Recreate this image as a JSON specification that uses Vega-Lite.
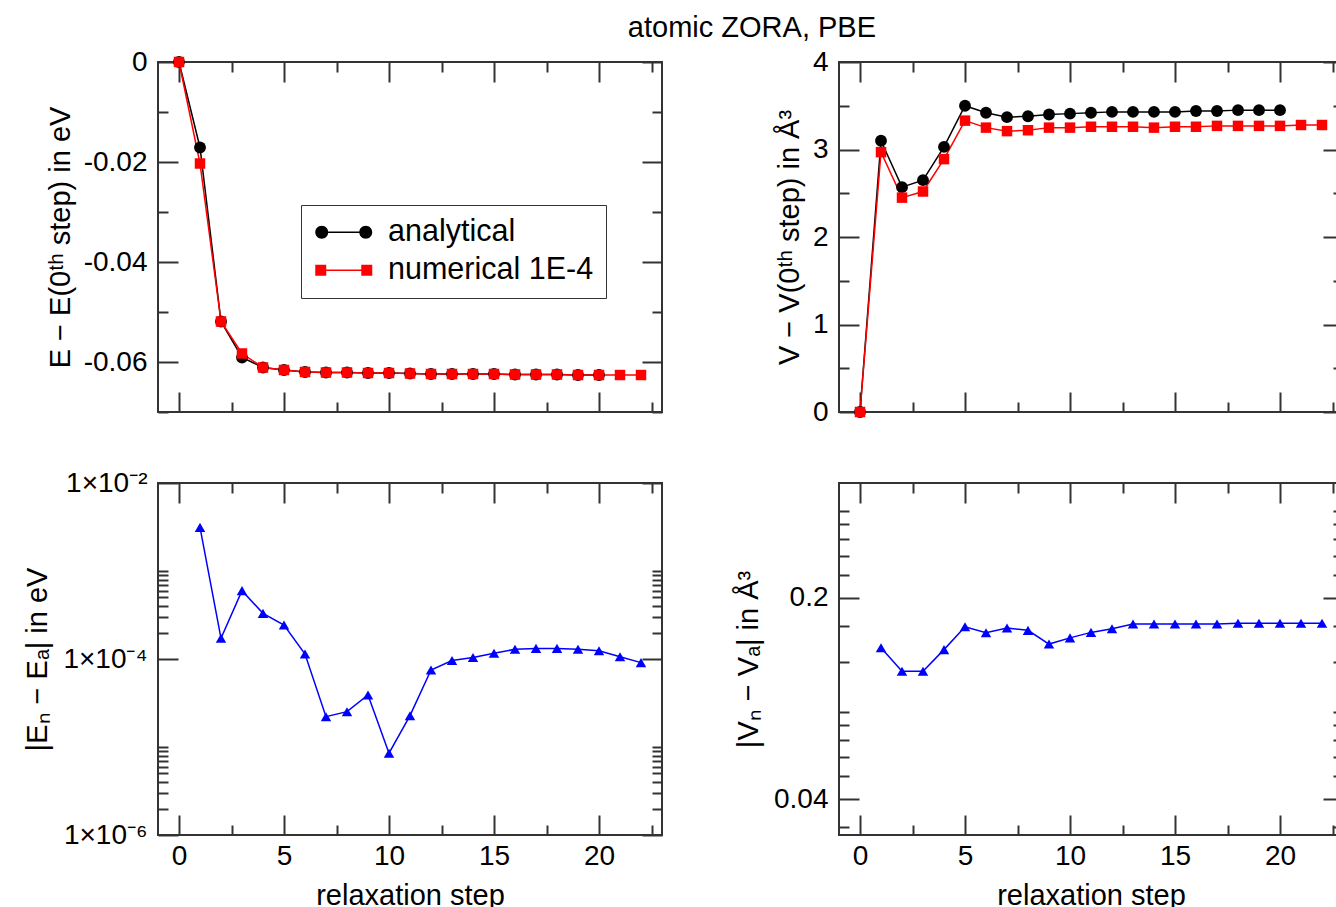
{
  "$schema": "https://vega.github.io/schema/vega-lite/v6.json",
  "padding": {"left": 22, "top": 14, "right": 0, "bottom": 0},
  "background": "white",
  "title": {"text": "atomic ZORA, PBE", "fontSize": 29, "font": "Liberation Sans", "fontWeight": "normal", "color": "#000", "anchor": "middle", "dx": 68, "offset": 4},
  "config": {
    "view": {"stroke": "#333", "strokeWidth": 2},
    "axis": {"domain": false, "grid": false, "tickColor": "#333", "tickWidth": 2, "labelFont": "Liberation Sans", "labelFontSize": 28, "labelColor": "#000", "titleFont": "Liberation Sans", "titleFontSize": 29, "titleFontWeight": "normal", "titleColor": "#000", "labelFlush": false, "labelOverlap": false}
  },
  "datasets": {
    "energy": [
      {"step": 0, "series": "analytical", "value": 0},
      {"step": 1, "series": "analytical", "value": -0.0171},
      {"step": 2, "series": "analytical", "value": -0.0519},
      {"step": 3, "series": "analytical", "value": -0.0591},
      {"step": 4, "series": "analytical", "value": -0.0611},
      {"step": 5, "series": "analytical", "value": -0.0616},
      {"step": 6, "series": "analytical", "value": -0.0620},
      {"step": 7, "series": "analytical", "value": -0.0621},
      {"step": 8, "series": "analytical", "value": -0.0621},
      {"step": 9, "series": "analytical", "value": -0.0622},
      {"step": 10, "series": "analytical", "value": -0.0622},
      {"step": 11, "series": "analytical", "value": -0.0623},
      {"step": 12, "series": "analytical", "value": -0.0624},
      {"step": 13, "series": "analytical", "value": -0.0624},
      {"step": 14, "series": "analytical", "value": -0.0624},
      {"step": 15, "series": "analytical", "value": -0.0624},
      {"step": 16, "series": "analytical", "value": -0.0625},
      {"step": 17, "series": "analytical", "value": -0.0625},
      {"step": 18, "series": "analytical", "value": -0.0625},
      {"step": 19, "series": "analytical", "value": -0.0626},
      {"step": 20, "series": "analytical", "value": -0.0626},
      {"step": 0, "series": "numerical 1E-4", "value": 0},
      {"step": 1, "series": "numerical 1E-4", "value": -0.0203},
      {"step": 2, "series": "numerical 1E-4", "value": -0.0519},
      {"step": 3, "series": "numerical 1E-4", "value": -0.0583},
      {"step": 4, "series": "numerical 1E-4", "value": -0.0611},
      {"step": 5, "series": "numerical 1E-4", "value": -0.0616},
      {"step": 6, "series": "numerical 1E-4", "value": -0.0620},
      {"step": 7, "series": "numerical 1E-4", "value": -0.0621},
      {"step": 8, "series": "numerical 1E-4", "value": -0.0621},
      {"step": 9, "series": "numerical 1E-4", "value": -0.0622},
      {"step": 10, "series": "numerical 1E-4", "value": -0.0622},
      {"step": 11, "series": "numerical 1E-4", "value": -0.0623},
      {"step": 12, "series": "numerical 1E-4", "value": -0.0624},
      {"step": 13, "series": "numerical 1E-4", "value": -0.0624},
      {"step": 14, "series": "numerical 1E-4", "value": -0.0624},
      {"step": 15, "series": "numerical 1E-4", "value": -0.0624},
      {"step": 16, "series": "numerical 1E-4", "value": -0.0625},
      {"step": 17, "series": "numerical 1E-4", "value": -0.0625},
      {"step": 18, "series": "numerical 1E-4", "value": -0.0625},
      {"step": 19, "series": "numerical 1E-4", "value": -0.0626},
      {"step": 20, "series": "numerical 1E-4", "value": -0.0626},
      {"step": 21, "series": "numerical 1E-4", "value": -0.0626},
      {"step": 22, "series": "numerical 1E-4", "value": -0.0626}
    ],
    "volume": [
      {"step": 0, "series": "analytical", "value": 0},
      {"step": 1, "series": "analytical", "value": 3.10},
      {"step": 2, "series": "analytical", "value": 2.57},
      {"step": 3, "series": "analytical", "value": 2.65},
      {"step": 4, "series": "analytical", "value": 3.03},
      {"step": 5, "series": "analytical", "value": 3.50},
      {"step": 6, "series": "analytical", "value": 3.42},
      {"step": 7, "series": "analytical", "value": 3.37},
      {"step": 8, "series": "analytical", "value": 3.38},
      {"step": 9, "series": "analytical", "value": 3.40},
      {"step": 10, "series": "analytical", "value": 3.41},
      {"step": 11, "series": "analytical", "value": 3.42},
      {"step": 12, "series": "analytical", "value": 3.43},
      {"step": 13, "series": "analytical", "value": 3.43},
      {"step": 14, "series": "analytical", "value": 3.43},
      {"step": 15, "series": "analytical", "value": 3.43},
      {"step": 16, "series": "analytical", "value": 3.44},
      {"step": 17, "series": "analytical", "value": 3.44},
      {"step": 18, "series": "analytical", "value": 3.45},
      {"step": 19, "series": "analytical", "value": 3.45},
      {"step": 20, "series": "analytical", "value": 3.45},
      {"step": 0, "series": "numerical 1E-4", "value": 0},
      {"step": 1, "series": "numerical 1E-4", "value": 2.97},
      {"step": 2, "series": "numerical 1E-4", "value": 2.45},
      {"step": 3, "series": "numerical 1E-4", "value": 2.52},
      {"step": 4, "series": "numerical 1E-4", "value": 2.89},
      {"step": 5, "series": "numerical 1E-4", "value": 3.33},
      {"step": 6, "series": "numerical 1E-4", "value": 3.25},
      {"step": 7, "series": "numerical 1E-4", "value": 3.21},
      {"step": 8, "series": "numerical 1E-4", "value": 3.22},
      {"step": 9, "series": "numerical 1E-4", "value": 3.25},
      {"step": 10, "series": "numerical 1E-4", "value": 3.25},
      {"step": 11, "series": "numerical 1E-4", "value": 3.26},
      {"step": 12, "series": "numerical 1E-4", "value": 3.26},
      {"step": 13, "series": "numerical 1E-4", "value": 3.26},
      {"step": 14, "series": "numerical 1E-4", "value": 3.25},
      {"step": 15, "series": "numerical 1E-4", "value": 3.26},
      {"step": 16, "series": "numerical 1E-4", "value": 3.26},
      {"step": 17, "series": "numerical 1E-4", "value": 3.27},
      {"step": 18, "series": "numerical 1E-4", "value": 3.27},
      {"step": 19, "series": "numerical 1E-4", "value": 3.27},
      {"step": 20, "series": "numerical 1E-4", "value": 3.27},
      {"step": 21, "series": "numerical 1E-4", "value": 3.28},
      {"step": 22, "series": "numerical 1E-4", "value": 3.28}
    ],
    "dE": [
      {"step": 1, "value": 0.00313},
      {"step": 2, "value": 0.000172},
      {"step": 3, "value": 0.000598},
      {"step": 4, "value": 0.00033},
      {"step": 5, "value": 0.000243},
      {"step": 6, "value": 0.000114},
      {"step": 7, "value": 0.0000221},
      {"step": 8, "value": 0.0000252},
      {"step": 9, "value": 0.000039},
      {"step": 10, "value": 0.0000085},
      {"step": 11, "value": 0.0000227},
      {"step": 12, "value": 0.000075},
      {"step": 13, "value": 0.000096},
      {"step": 14, "value": 0.000104},
      {"step": 15, "value": 0.000116},
      {"step": 16, "value": 0.000129},
      {"step": 17, "value": 0.000132},
      {"step": 18, "value": 0.000132},
      {"step": 19, "value": 0.000129},
      {"step": 20, "value": 0.000124},
      {"step": 21, "value": 0.000106},
      {"step": 22, "value": 0.000091}
    ],
    "dV": [
      {"step": 1, "value": 0.134},
      {"step": 2, "value": 0.111},
      {"step": 3, "value": 0.111},
      {"step": 4, "value": 0.132},
      {"step": 5, "value": 0.1585},
      {"step": 6, "value": 0.151},
      {"step": 7, "value": 0.157},
      {"step": 8, "value": 0.154},
      {"step": 9, "value": 0.138},
      {"step": 10, "value": 0.145},
      {"step": 11, "value": 0.1515},
      {"step": 12, "value": 0.156},
      {"step": 13, "value": 0.162},
      {"step": 14, "value": 0.162},
      {"step": 15, "value": 0.162},
      {"step": 16, "value": 0.162},
      {"step": 17, "value": 0.162},
      {"step": 18, "value": 0.163},
      {"step": 19, "value": 0.163},
      {"step": 20, "value": 0.163},
      {"step": 21, "value": 0.163},
      {"step": 22, "value": 0.163}
    ]
  },
  "columns": 2,
  "spacing": {"row": 71, "column": 177},
  "bounds": "flush",
  "concat": [
    {
      "width": 504, "height": 350,
      "data": {"name": "energy"},
      "layer": [
        {
          "mark": {"type": "line", "strokeWidth": 1.5},
          "encoding": {
            "x": {"field": "step", "type": "quantitative", "scale": {"domain": [-1, 23], "nice": false, "zero": false},
              "axis": {"orient": "bottom", "values": [0, 2.5, 5, 7.5, 10, 12.5, 15, 17.5, 20, 22.5], "labels": false, "title": null,
                "tickSize": {"condition": {"test": "datum.value % 5 === 0", "value": -20}, "value": -10}}},
            "y": {"field": "value", "type": "quantitative", "scale": {"domain": [-0.07, 0], "nice": false, "zero": false},
              "axis": {"orient": "left", "values": [-0.07, -0.06, -0.05, -0.04, -0.03, -0.02, -0.01, 0], "title": "E − E(0ᵗʰ step) in eV", "titlePadding": 8, "labelPadding": 31,
                "labelExpr": "abs(round(datum.value*100)) % 2 === 0 ? (datum.value === 0 ? '0' : '-0.0' + abs(round(datum.value*100))) : ''",
                "tickSize": {"condition": {"test": "abs(round(datum.value*100)) % 2 === 0", "value": -20}, "value": -10}}},
            "color": {"field": "series", "type": "nominal", "scale": {"domain": ["analytical", "numerical 1E-4"], "range": ["#000000", "#ff0000"]},
              "legend": {"title": null, "orient": "none", "legendX": 143, "legendY": 143, "labelFont": "Liberation Sans", "labelFontSize": 30.5, "labelColor": "#000", "labelLimit": 0,
                "symbolSize": 841, "symbolOffset": 15.5, "labelOffset": 29, "strokeColor": "#333", "fillColor": "white", "padding": 12, "rowPadding": 7, "symbolStrokeWidth": 0, "symbolOpacity": 1}}
          }
        },
        {
          "transform": [{"filter": "datum.series === 'analytical'"}],
          "mark": {"type": "point", "filled": true, "opacity": 1, "shape": "circle", "size": 140},
          "encoding": {
            "x": {"field": "step", "type": "quantitative", "axis": null},
            "y": {"field": "value", "type": "quantitative", "axis": null},
            "color": {"field": "series", "type": "nominal"}
          }
        },
        {
          "transform": [{"filter": "datum.series !== 'analytical'"}],
          "mark": {"type": "point", "filled": true, "opacity": 1, "shape": "square", "size": 110},
          "encoding": {
            "x": {"field": "step", "type": "quantitative", "axis": null},
            "y": {"field": "value", "type": "quantitative", "axis": null},
            "color": {"field": "series", "type": "nominal"}
          }
        },
        {
          "mark": {"type": "point", "opacity": 0},
          "encoding": {
            "x": {"field": "step", "type": "quantitative",
              "axis": {"orient": "top", "values": [0, 2.5, 5, 7.5, 10, 12.5, 15, 17.5, 20, 22.5], "labels": false, "title": null,
                "tickSize": {"condition": {"test": "datum.value % 5 === 0", "value": -20}, "value": -10}}},
            "y": {"field": "value", "type": "quantitative",
              "axis": {"orient": "right", "values": [-0.07, -0.06, -0.05, -0.04, -0.03, -0.02, -0.01, 0], "labels": false, "title": null,
                "tickSize": {"condition": {"test": "abs(round(datum.value*100)) % 2 === 0", "value": -20}, "value": -10}}},
            "shape": {"field": "series", "type": "nominal",
              "scale": {"domain": ["analytical", "numerical 1E-4"], "range": ["M-1.069,-0.052H1.069V0.052H-1.069ZM-1.069,0A0.448,0.448,0,1,1,-1.965,0A0.448,0.448,0,1,1,-1.069,0ZM1.965,0A0.448,0.448,0,1,1,1.069,0A0.448,0.448,0,1,1,1.965,0Z", "M-1.207,-0.052H1.207V0.052H-1.207ZM-1.965,-0.379H-1.207V0.379H-1.965ZM1.207,-0.379H1.965V0.379H1.207Z"]},
              "legend": {"title": null, "orient": "none", "legendX": 143, "legendY": 143, "symbolOpacity": 1}}
          }
        }
      ],
      "resolve": {"axis": {"x": "independent", "y": "independent"}}
    },
    {
      "width": 504, "height": 350,
      "data": {"name": "volume"},
      "layer": [
        {
          "mark": {"type": "line", "strokeWidth": 1.5},
          "encoding": {
            "x": {"field": "step", "type": "quantitative", "scale": {"domain": [-1, 23], "nice": false, "zero": false},
              "axis": {"orient": "bottom", "values": [0, 2.5, 5, 7.5, 10, 12.5, 15, 17.5, 20, 22.5], "labels": false, "title": null,
                "tickSize": {"condition": {"test": "datum.value % 5 === 0", "value": -20}, "value": -10}}},
            "y": {"field": "value", "type": "quantitative", "scale": {"domain": [0, 4], "nice": false, "zero": false},
              "axis": {"orient": "left", "values": [0, 0.5, 1, 1.5, 2, 2.5, 3, 3.5, 4], "title": "V − V(0ᵗʰ step) in Å³", "titlePadding": 8, "labelPadding": 31,
                "labelExpr": "datum.value % 1 === 0 ? '' + datum.value : ''",
                "tickSize": {"condition": {"test": "datum.value % 1 === 0", "value": -20}, "value": -10}}},
            "color": {"field": "series", "type": "nominal", "scale": {"domain": ["analytical", "numerical 1E-4"], "range": ["#000000", "#ff0000"]}, "legend": null}
          }
        },
        {
          "transform": [{"filter": "datum.series === 'analytical'"}],
          "mark": {"type": "point", "filled": true, "opacity": 1, "shape": "circle", "size": 140},
          "encoding": {
            "x": {"field": "step", "type": "quantitative", "axis": null},
            "y": {"field": "value", "type": "quantitative", "axis": null},
            "color": {"field": "series", "type": "nominal", "legend": null}
          }
        },
        {
          "transform": [{"filter": "datum.series !== 'analytical'"}],
          "mark": {"type": "point", "filled": true, "opacity": 1, "shape": "square", "size": 110},
          "encoding": {
            "x": {"field": "step", "type": "quantitative", "axis": null},
            "y": {"field": "value", "type": "quantitative", "axis": null},
            "color": {"field": "series", "type": "nominal", "legend": null}
          }
        },
        {
          "mark": {"type": "point", "opacity": 0},
          "encoding": {
            "x": {"field": "step", "type": "quantitative",
              "axis": {"orient": "top", "values": [0, 2.5, 5, 7.5, 10, 12.5, 15, 17.5, 20, 22.5], "labels": false, "title": null,
                "tickSize": {"condition": {"test": "datum.value % 5 === 0", "value": -20}, "value": -10}}},
            "y": {"field": "value", "type": "quantitative",
              "axis": {"orient": "right", "values": [0, 0.5, 1, 1.5, 2, 2.5, 3, 3.5, 4], "labels": false, "title": null,
                "tickSize": {"condition": {"test": "datum.value % 1 === 0", "value": -20}, "value": -10}}}
          }
        }
      ],
      "resolve": {"axis": {"x": "independent", "y": "independent"}}
    },
    {
      "width": 504, "height": 352,
      "data": {"name": "dE"},
      "layer": [
        {
          "mark": {"type": "line", "strokeWidth": 1.5, "color": "#0000ff"},
          "encoding": {
            "x": {"field": "step", "type": "quantitative", "scale": {"domain": [-1, 23], "nice": false, "zero": false},
              "axis": {"orient": "bottom", "values": [0, 2.5, 5, 7.5, 10, 12.5, 15, 17.5, 20, 22.5], "title": "relaxation step", "titlePadding": 1, "labelPadding": 27,
                "labelExpr": "datum.value % 5 === 0 ? '' + datum.value : ''",
                "tickSize": {"condition": {"test": "datum.value % 5 === 0", "value": -20}, "value": -10}}},
            "y": {"field": "value", "type": "quantitative", "scale": {"type": "log", "domain": [0.000001, 0.01], "nice": false},
              "axis": {"orient": "left", "values": [0.000001, 0.000002, 0.000003, 0.000004, 0.000005, 0.000006, 0.000007, 0.000008, 0.000009, 0.00001, 0.0001, 0.0002, 0.0003, 0.0004, 0.0005, 0.0006, 0.0007, 0.0008, 0.0009, 0.001, 0.01],
                "title": "|Eₙ − Eₐ| in eV", "titlePadding": 10, "labelPadding": 31,
                "labelExpr": "datum.value === 0.01 ? '1×10⁻²' : datum.value === 0.0001 ? '1×10⁻⁴' : datum.value === 0.000001 ? '1×10⁻⁶' : ''",
                "tickSize": {"condition": {"test": "datum.value === 0.01 || datum.value === 0.0001 || datum.value === 0.000001", "value": -20}, "value": -10}}}
          }
        },
        {
          "mark": {"type": "point", "filled": true, "opacity": 1, "shape": "triangle-up", "size": 110, "color": "#0000ff"},
          "encoding": {
            "x": {"field": "step", "type": "quantitative", "axis": null},
            "y": {"field": "value", "type": "quantitative", "axis": null}
          }
        },
        {
          "mark": {"type": "point", "opacity": 0},
          "encoding": {
            "x": {"field": "step", "type": "quantitative",
              "axis": {"orient": "top", "values": [0, 2.5, 5, 7.5, 10, 12.5, 15, 17.5, 20, 22.5], "labels": false, "title": null,
                "tickSize": {"condition": {"test": "datum.value % 5 === 0", "value": -20}, "value": -10}}},
            "y": {"field": "value", "type": "quantitative",
              "axis": {"orient": "right", "values": [0.000001, 0.000002, 0.000003, 0.000004, 0.000005, 0.000006, 0.000007, 0.000008, 0.000009, 0.00001, 0.0001, 0.0002, 0.0003, 0.0004, 0.0005, 0.0006, 0.0007, 0.0008, 0.0009, 0.001, 0.01], "labels": false, "title": null,
                "tickSize": {"condition": {"test": "datum.value === 0.01 || datum.value === 0.0001 || datum.value === 0.000001", "value": -20}, "value": -10}}}
          }
        }
      ],
      "resolve": {"axis": {"x": "independent", "y": "independent"}}
    },
    {
      "width": 504, "height": 352,
      "data": {"name": "dV"},
      "layer": [
        {
          "mark": {"type": "line", "strokeWidth": 1.5, "color": "#0000ff"},
          "encoding": {
            "x": {"field": "step", "type": "quantitative", "scale": {"domain": [-1, 23], "nice": false, "zero": false},
              "axis": {"orient": "bottom", "values": [0, 2.5, 5, 7.5, 10, 12.5, 15, 17.5, 20, 22.5], "title": "relaxation step", "titlePadding": 1, "labelPadding": 27,
                "labelExpr": "datum.value % 5 === 0 ? '' + datum.value : ''",
                "tickSize": {"condition": {"test": "datum.value % 5 === 0", "value": -20}, "value": -10}}},
            "y": {"field": "value", "type": "quantitative", "scale": {"type": "log", "domain": [0.03, 0.5], "nice": false},
              "axis": {"orient": "left", "values": [0.032, 0.04, 0.048, 0.056, 0.064, 0.072, 0.08, 0.12, 0.16, 0.2, 0.24, 0.28, 0.32, 0.36, 0.4],
                "title": "|Vₙ − Vₐ| in Å³", "titlePadding": 10, "labelPadding": 31,
                "labelExpr": "datum.value === 0.04 ? '0.04' : datum.value === 0.2 ? '0.2' : ''",
                "tickSize": {"condition": {"test": "datum.value === 0.04 || datum.value === 0.2", "value": -20}, "value": -10}}}
          }
        },
        {
          "mark": {"type": "point", "filled": true, "opacity": 1, "shape": "triangle-up", "size": 110, "color": "#0000ff"},
          "encoding": {
            "x": {"field": "step", "type": "quantitative", "axis": null},
            "y": {"field": "value", "type": "quantitative", "axis": null}
          }
        },
        {
          "mark": {"type": "point", "opacity": 0},
          "encoding": {
            "x": {"field": "step", "type": "quantitative",
              "axis": {"orient": "top", "values": [0, 2.5, 5, 7.5, 10, 12.5, 15, 17.5, 20, 22.5], "labels": false, "title": null,
                "tickSize": {"condition": {"test": "datum.value % 5 === 0", "value": -20}, "value": -10}}},
            "y": {"field": "value", "type": "quantitative",
              "axis": {"orient": "right", "values": [0.032, 0.04, 0.048, 0.056, 0.064, 0.072, 0.08, 0.12, 0.16, 0.2, 0.24, 0.28, 0.32, 0.36, 0.4], "labels": false, "title": null,
                "tickSize": {"condition": {"test": "datum.value === 0.04 || datum.value === 0.2", "value": -20}, "value": -10}}}
          }
        }
      ],
      "resolve": {"axis": {"x": "independent", "y": "independent"}}
    }
  ]
}
